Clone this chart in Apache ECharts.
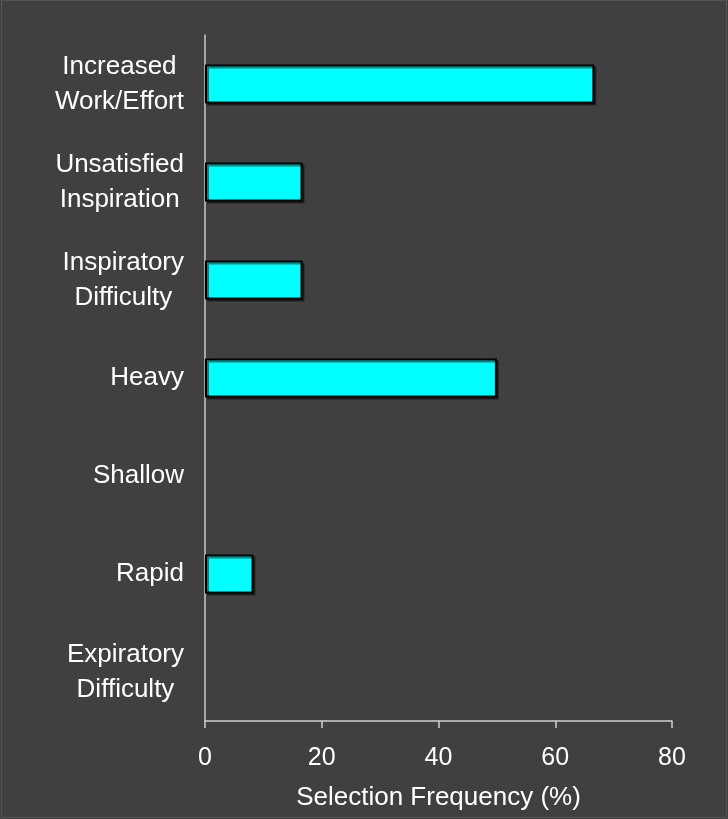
<!DOCTYPE html>
<html>
<head>
<meta charset="utf-8">
<script src="https://cdn.jsdelivr.net/npm/echarts@6/dist/echarts.min.js"></script>
<style>
  html, body { margin: 0; padding: 0; background: #404040; }
  #chart { width: 728px; height: 819px; }
</style>
</head>
<body>
<div id="chart"></div>
<script>
// Breathing-sensation descriptors, listed top to bottom
const categories = [
  'Increased\nWork/Effort',
  'Unsatisfied\nInspiration',
  'Inspiratory\nDifficulty',
  'Heavy',
  'Shallow',
  'Rapid',
  'Expiratory\nDifficulty'
];
// Percentage of subjects choosing each descriptor
const frequency = [66.7, 16.7, 16.7, 50, 0, 8.3, 0];
const xTicks = [0, 20, 40, 60, 80];
const xTitle = 'Selection Frequency (%)';

const chart = echarts.init(document.getElementById('chart'), null, { renderer: 'canvas' });

const font = 'Liberation Sans, Arial, sans-serif';

// zero-length bars get no outline so nothing shows for them
const barData = frequency.map(function (v) {
  return v === 0
    ? { value: v, itemStyle: { borderWidth: 0, shadowColor: 'transparent' } }
    : { value: v };
});

chart.setOption({
  backgroundColor: '#404040',
  animation: false,
  graphic: [{
    type: 'rect',
    shape: { x: 1.5, y: 0.5, width: 725, height: 817 },
    style: { fill: 'none', stroke: '#555555', lineWidth: 1 },
    silent: true
  }],
  grid: { left: 205, right: 56, top: 35, bottom: 98, containLabel: false },
  xAxis: {
    type: 'value',
    min: xTicks[0],
    max: xTicks[xTicks.length - 1],
    interval: xTicks[1] - xTicks[0],
    name: xTitle,
    nameLocation: 'middle',
    nameGap: 64,
    nameTextStyle: { color: '#ffffff', fontSize: 26, fontFamily: font },
    axisLine: { show: true, lineStyle: { color: '#d0d0d0', width: 1.5 } },
    axisTick: { show: true, length: 7, lineStyle: { color: '#d0d0d0', width: 1.5 } },
    axisLabel: { color: '#ffffff', fontSize: 25, fontFamily: font, margin: 25 },
    splitLine: { show: false }
  },
  yAxis: {
    type: 'category',
    data: categories,
    inverse: true,
    axisLine: { show: true, lineStyle: { color: '#c8c8c8', width: 1.5 } },
    axisTick: { show: false },
    axisLabel: {
      fontSize: 26,
      fontFamily: font,
      color: '#ffffff',
      margin: 21,
      lineHeight: 35,
      formatter: function (v) {
        return v.split('\n').map(function (s) { return '{c|' + s + '}'; }).join('\n');
      },
      rich: {
        c: { align: 'center', color: '#ffffff', fontSize: 26, fontFamily: font, lineHeight: 35 }
      }
    },
    splitLine: { show: false }
  },
  series: [{
    type: 'bar',
    data: barData,
    barWidth: '40%',
    itemStyle: {
      color: '#00ffff',
      borderColor: '#000000',
      borderWidth: 2,
      shadowColor: 'rgba(0,0,0,0.45)',
      shadowOffsetX: 2,
      shadowOffsetY: 2,
      shadowBlur: 0
    }
  }]
});
</script>
</body>
</html>
